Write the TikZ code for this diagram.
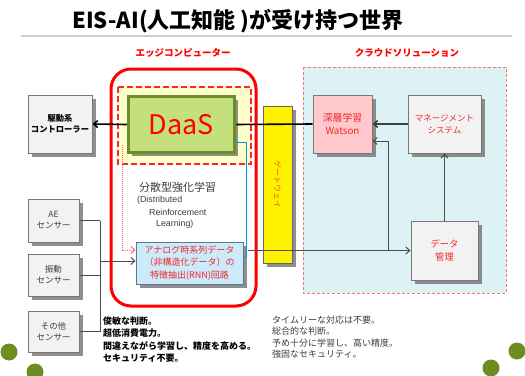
\documentclass[tikz,border=0pt]{standalone}
\usepackage{fontspec}
\setmainfont{Noto Sans CJK JP}
\newfontfamily\arialf{Liberation Sans}
\usetikzlibrary{shadows,arrows.meta}
\definecolor{boxgray}{RGB}{242,242,242}
\definecolor{bordgray}{RGB}{120,120,120}
\definecolor{daasfill}{RGB}{196,224,126}
\definecolor{daasbord}{RGB}{110,140,40}
\definecolor{paleyel}{RGB}{255,255,204}
\definecolor{cloudfill}{RGB}{221,242,245}
\definecolor{pinkfill}{RGB}{255,200,204}
\definecolor{rnnfill}{RGB}{205,234,250}
\definecolor{rnnbord}{RGB}{90,120,150}
\definecolor{olivec}{RGB}{107,142,35}
\definecolor{gwtext}{RGB}{245,90,10}
\definecolor{txtred}{RGB}{240,40,40}
\definecolor{darktxt}{RGB}{60,60,60}
\begin{document}
\begin{tikzpicture}[x=1pt,y=-1pt,
  every node/.style={inner sep=0pt, align=center},
  shd/.style={drop shadow={shadow xshift=3.5pt, shadow yshift=-3.5pt, fill=black!55, opacity=.8}},
  gbox/.style={draw=bordgray, fill=boxgray, line width=1pt, shd},
  conn/.style={draw=black!70, line width=1pt},
  tip/.style={-{Straight Barb[length=4pt,width=7pt]}}
]
\useasboundingbox (0,0) rectangle (525,375);

% title
\node[font=\fontsize{22}{24}\selectfont\bfseries] (title) at (238,21) {EIS-AI(人工知能 )が受け持つ世界};
\coordinate (tl1) at (21,36);
\coordinate (tl2) at (512,36);
\draw[black!20, line width=1.8pt] (tl1) -- (tl2);

\node[font=\fontsize{9.5}{11}\selectfont\bfseries, text=red] (edgeh) at (183,53) {エッジコンピューター};
\node[font=\fontsize{9.5}{11}\selectfont\bfseries, text=red] (cloudh) at (407,53) {クラウドソリューション};

% regions
\path[draw=red!55, densely dashed, line width=0.8pt, fill=cloudfill] (303,67) rectangle (506,293);
\path[draw=red, line width=3pt, rounded corners=20pt] (111,69) rectangle (256,306);
\path[draw=red!85, dash pattern=on 6pt off 3pt, line width=1.5pt, fill=paleyel] (118,87) rectangle (251,164);

% left boxes
\node[gbox, minimum width=64pt, minimum height=58pt, font=\fontsize{8.3}{11}\selectfont\bfseries] (ctrl) at (60,124) {駆動系\\コントローラー};
\node[gbox, minimum width=51pt, minimum height=43pt, font=\fontsize{8.5}{11}\selectfont, text=darktxt] (ae) at (53.5,220.5) {AE\\センサー};
\node[gbox, minimum width=51pt, minimum height=42pt, font=\fontsize{8.5}{11}\selectfont, text=darktxt] (vib) at (53.5,275) {振動\\センサー};
\node[gbox, minimum width=51pt, minimum height=41pt, font=\fontsize{8.5}{11}\selectfont, text=darktxt] (oth) at (53.5,331.5) {その他\\センサー};

% DaaS
\node[draw=daasbord, fill=daasfill, line width=3.5pt, minimum width=106pt, minimum height=56pt, shd,
  font=\fontsize{27}{30}\selectfont, text=red] (daas) at (181.5,124.5) {DaaS};

% RNN
\node[draw=rnnbord, fill=rnnfill, line width=0.8pt, minimum width=107pt, minimum height=42pt, shd,
  font=\fontsize{9}{12.5}\selectfont, text=txtred] (rnn) at (189.5,263) {アナログ時系列データ\\（非構造化データ）の\\特徴抽出(RNN)回路};

% labels in edge region
\node[font=\fontsize{11}{13}\selectfont, text=darktxt] (dist) at (177.5,187) {分散型強化学習};
\node[anchor=west, font=\arialf\fontsize{8.8}{10}\selectfont, text=darktxt] (dl1) at (137,200) {(Distributed};
\node[anchor=west, font=\arialf\fontsize{8.8}{10}\selectfont, text=darktxt] (dl2) at (149,212) {Reinforcement};
\node[anchor=west, font=\arialf\fontsize{8.8}{10}\selectfont, text=darktxt] (dl3) at (156,224) {Learning)};

% gateway
\node[draw=black!60, fill=yellow, line width=0.8pt, minimum width=29pt, minimum height=157pt, shd] (gw) at (277.5,184.5) {};
\node[rotate=-90, font=\fontsize{8}{9}\selectfont, text=gwtext] (gwt) at (gw.center) {ゲートウェイ};

% cloud boxes
\node[draw=bordgray, fill=pinkfill, line width=1pt, minimum width=59pt, minimum height=58pt, shd,
  font=\fontsize{9.8}{13}\selectfont, text=txtred] (wat) at (342.5,124) {深層学習\\Watson};
\node[gbox, minimum width=73pt, minimum height=58pt, font=\fontsize{8.5}{12}\selectfont, text=txtred] (mgmt) at (444.5,124) {マネージメント\\システム};
\node[gbox, minimum width=67pt, minimum height=59pt, font=\fontsize{9.3}{13}\selectfont, text=txtred] (data) at (444.5,250.5) {データ\\管理};

% connectors
\draw[black, line width=1.6pt] (wat.west) -- (daas.east);
\draw[black, line width=1.6pt, tip] (daas.west) -- (ctrl.east);
\draw[black!75, line width=1.6pt, tip] (mgmt.west) -- (wat.east);
\draw[conn, tip] (data.north) -- (mgmt.south);

\coordinate (c1) at (246,142);
\coordinate (c2) at (246,257);
\draw[cyan!80!blue, line width=1pt] (daas.east |- c1) -- (c1) -- (c2) -- (rnn.east |- c2);

\coordinate (p1) at (122,145);
\coordinate (p2) at (122,250);
\draw[red!60, densely dotted, line width=1pt, tip] (p1) -- (p2) -- (rnn.west |- p2);

\coordinate (sx) at (100,0);
\coordinate (sm) at (100,261);
\draw[conn] (ae.east) -- (ae.east -| sx);
\draw[conn] (vib.east) -- (vib.east -| sx);
\draw[conn] (oth.east) -- (oth.east -| sx);
\draw[conn] (ae.east -| sx) -- (oth.east -| sx);
\draw[conn, tip] (sm) -- (rnn.west |- sm);

\coordinate (r0) at (248,0);
\draw[conn, tip] (data.west -| r0) -- (data.west);
\coordinate (b1) at (388,250.5);
\coordinate (b2) at (388,141);
\draw[conn, tip] (b1) -- (b2) -- (b2 -| wat.east);

% bottom texts
\begin{scope}[every node/.style={anchor=west, inner sep=0pt, font=\fontsize{9}{10}\selectfont\bfseries}]
\node (l1) at (103,321) {俊敏な判断。};
\node (l2) at (103,333.5) {超低消費電力。};
\node (l3) at (103,346) {間違えながら学習し、精度を高める。};
\node (l4) at (103,358.5) {セキュリティ不要。};
\end{scope}
\begin{scope}[every node/.style={anchor=west, inner sep=0pt, text=darktxt, font=\fontsize{9}{10}\selectfont}]
\node (r1) at (272,320) {タイムリーな対応は不要。};
\node (r2) at (272,331.5) {総合的な判断。};
\node (r3) at (272,343) {予め十分に学習し、高い精度。};
\node (r4) at (272,354.5) {強固なセキュリティ。};
\end{scope}

% decorative circles
\fill[olivec] (9,352) circle (8.5);
\fill[olivec] (35,372) circle (8.5);
\fill[olivec] (517,351) circle (8.5);
\fill[olivec] (491,368) circle (8.5);
\end{tikzpicture}
\end{document}
